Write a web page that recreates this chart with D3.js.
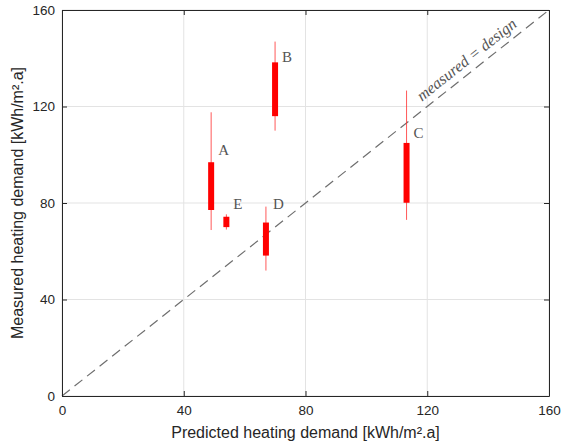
<!DOCTYPE html>
<html>
<head>
<meta charset="utf-8">
<script src="https://cdn.jsdelivr.net/npm/d3@7"></script>
<style>
  body { margin: 0; background: #fff; }
  .tick text { font: 13.5px "Liberation Sans", Arial, sans-serif; fill: #262626; }
  .lbl { font: 15px "Liberation Serif", "Times New Roman", serif; fill: #555; }
  .axlabel { font: 16px "Liberation Sans", Arial, sans-serif; fill: #262626; }
</style>
</head>
<body>
<script>
// buildings, predicted vs measured heating demand (kWh/m².a)
var names     = ["A", "B", "C", "D", "E"];
var predicted = [49, 70, 113.2, 67, 54];
var lowWhisk  = [68.8, 110, 73, 52, 69];
var lowBox    = [77.1, 116, 80.1, 58.2, 70];
var highBox   = [96.9, 138.3, 104.9, 71.9, 74.3];
var highWhisk = [117.6, 146.9, 126.6, 78.5, 75.3];
var labelY    = [102, 140.5, 109, 79.5, 79.5];
var ticks     = [0, 40, 80, 120, 160];

var W = 563, H = 448;
var m = {left: 62, top: 10, right: 14, bottom: 52};
var w = W - m.left - m.right, h = H - m.top - m.bottom;

var svg = d3.select("body").append("svg")
    .attr("width", W)
    .attr("height", H);

var g = svg.append("g").attr("transform", "translate(" + m.left + "," + m.top + ")");

var x = d3.scaleLinear().domain([0, 160]).range([0, w]);
var y = d3.scaleLinear().domain([0, 160]).range([h, 0]);

// grid
g.append("g").selectAll("line").data(ticks).enter().append("line")
    .attr("x1", d => x(d)).attr("x2", d => x(d))
    .attr("y1", 0).attr("y2", h)
    .attr("stroke", "#e3e3e3");
g.append("g").selectAll("line").data(ticks).enter().append("line")
    .attr("y1", d => y(d)).attr("y2", d => y(d))
    .attr("x1", 0).attr("x2", w)
    .attr("stroke", "#e3e3e3");

// 1:1 line
g.append("line")
    .attr("x1", x(0)).attr("y1", y(0))
    .attr("x2", x(160)).attr("y2", y(160))
    .attr("stroke", "#6e6e6e")
    .attr("stroke-width", 1.2)
    .attr("stroke-dasharray", "10,6");

var ang = -Math.atan((y(0) - y(160)) / (x(160) - x(0))) * 180 / Math.PI;
g.append("text")
    .attr("transform", "translate(" + x(134) + "," + (y(134) - 9) + ")rotate(" + ang + ")")
    .attr("text-anchor", "middle")
    .style("font", "italic 16px 'Liberation Serif', 'Times New Roman', serif")
    .style("fill", "#555")
    .text("measured = design");

// axes
var xAxis = g.append("g").attr("transform", "translate(0," + h + ")")
    .call(d3.axisBottom(x).tickValues(ticks).tickSizeInner(-5).tickSizeOuter(0).tickPadding(9));
var yAxis = g.append("g")
    .call(d3.axisLeft(y).tickValues(ticks).tickSizeInner(-5).tickSizeOuter(0).tickPadding(7));
var xTop = g.append("g")
    .call(d3.axisTop(x).tickValues(ticks).tickSizeInner(-5).tickSizeOuter(0).tickFormat(""));
var yRight = g.append("g").attr("transform", "translate(" + w + ",0)")
    .call(d3.axisRight(y).tickValues(ticks).tickSizeInner(-5).tickSizeOuter(0).tickFormat(""));
[xAxis, yAxis, xTop, yRight].forEach(function(a) {
  a.selectAll("path").attr("stroke", "#262626");
  a.selectAll("line").attr("stroke", "#262626");
});

// whiskers + boxes
var idx = d3.range(names.length);
g.append("g").selectAll("line").data(idx).enter().append("line")
    .attr("x1", i => x(predicted[i])).attr("x2", i => x(predicted[i]))
    .attr("y1", i => y(highWhisk[i])).attr("y2", i => y(lowWhisk[i]))
    .attr("stroke", "#ff3030")
    .attr("stroke-opacity", 0.8)
    .attr("stroke-width", 1);
g.append("g").selectAll("rect").data(idx).enter().append("rect")
    .attr("x", i => x(predicted[i]) - 3)
    .attr("width", 6)
    .attr("y", i => y(highBox[i]))
    .attr("height", i => y(lowBox[i]) - y(highBox[i]))
    .attr("fill", "#ff0000");

g.append("g").selectAll("text").data(idx).enter().append("text")
    .attr("class", "lbl")
    .attr("x", i => x(predicted[i]) + 7)
    .attr("y", i => y(labelY[i]))
    .attr("dy", "0.35em")
    .text(i => names[i]);

// axis titles
svg.append("text")
    .attr("class", "axlabel")
    .attr("x", m.left + w / 2)
    .attr("y", 438)
    .attr("text-anchor", "middle")
    .text("Predicted heating demand [kWh/m².a]");
svg.append("text")
    .attr("class", "axlabel")
    .attr("transform", "translate(23," + (m.top + h / 2) + ")rotate(-90)")
    .attr("text-anchor", "middle")
    .text("Measured heating demand [kWh/m².a]");
</script>
</body>
</html>
